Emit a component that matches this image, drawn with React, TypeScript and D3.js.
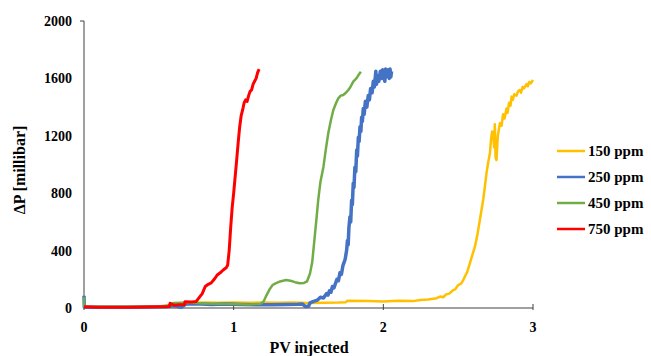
import React from "react";
import * as d3 from "d3";

const seriesNames = ["150 ppm", "250 ppm", "450 ppm", "750 ppm"];
const seriesColors = ["#FFC000", "#4472C4", "#70AD47", "#FF0000"];
const xTicks = [0, 1, 2, 3];
const yTicks = [0, 400, 800, 1200, 1600, 2000];

const yellow150: [number, number][] = [
  [0, 3], [0.5, 5], [0.6, 10], [0.64, 25], [0.7, 35], [0.8, 38], [0.9, 36], [1.0, 38], [1.1, 36],
  [1.2, 38], [1.3, 36], [1.4, 38], [1.5, 35], [1.6, 37], [1.7, 38], [1.75, 40], [1.76, 51],
  [1.9, 48], [2.0, 46], [2.1, 50], [2.2, 48], [2.245, 56], [2.3, 60], [2.356, 68], [2.38, 80],
  [2.4, 75], [2.42, 95], [2.44, 100], [2.467, 125], [2.48, 130], [2.5, 160], [2.52, 170],
  [2.534, 195], [2.55, 230], [2.56, 250], [2.578, 311], [2.595, 370], [2.612, 427], [2.63, 520],
  [2.645, 613], [2.657, 690], [2.667, 753], [2.679, 850], [2.689, 938], [2.7, 1010], [2.712, 1078],
  [2.72, 1180], [2.727, 1230], [2.734, 1217], [2.74, 1120], [2.745, 1280], [2.75, 1050],
  [2.756, 1031], [2.765, 1200], [2.779, 1287], [2.79, 1270], [2.8, 1350], [2.81, 1320],
  [2.823, 1390], [2.83, 1360], [2.84, 1430], [2.85, 1410], [2.857, 1473], [2.865, 1450],
  [2.875, 1490], [2.89, 1480], [2.9, 1510], [2.912, 1519], [2.92, 1500], [2.93, 1540],
  [2.94, 1530], [2.957, 1560], [2.965, 1545], [2.975, 1575], [2.985, 1565], [3.0, 1589],
];

const blue250: [number, number][] = [
  [0, 85], [0.002, 5], [0.3, 5], [0.55, 8], [0.6, 15], [0.65, 5], [0.68, 28], [0.75, 30],
  [0.85, 25], [0.95, 28], [1.05, 25], [1.15, 22], [1.25, 22], [1.35, 25], [1.43, 26], [1.46, 28],
  [1.48, 10], [1.5, 12], [1.51, 35], [1.53, 44], [1.56, 55], [1.58, 75], [1.6, 70], [1.62, 100],
  [1.63, 90], [1.64, 120], [1.65, 110], [1.66, 150], [1.67, 140], [1.69, 200], [1.7, 190],
  [1.71, 245], [1.72, 235], [1.73, 295], [1.745, 340], [1.755, 404], [1.76, 470], [1.765, 440],
  [1.77, 560], [1.777, 636], [1.782, 600], [1.788, 750], [1.793, 720], [1.799, 869], [1.804, 840],
  [1.81, 980], [1.816, 950], [1.822, 1101], [1.827, 1060], [1.833, 1190], [1.838, 1160],
  [1.844, 1263], [1.85, 1230], [1.855, 1330], [1.86, 1300], [1.866, 1390], [1.872, 1350],
  [1.88, 1440], [1.89, 1400], [1.899, 1480], [1.907, 1450], [1.915, 1530], [1.925, 1500],
  [1.933, 1580], [1.94, 1540], [1.95, 1650], [1.955, 1560], [1.96, 1620], [1.97, 1580],
  [1.98, 1650], [1.989, 1600], [1.995, 1660], [2.0, 1620], [2.01, 1580], [2.015, 1665],
  [2.02, 1610], [2.033, 1660], [2.04, 1600], [2.045, 1665], [2.05, 1610], [2.055, 1650],
];

const green450: [number, number][] = [
  [0, 75], [0.002, 10], [0.1, 8], [0.3, 8], [0.5, 10], [0.57, 20], [0.6, 35], [0.7, 38],
  [0.8, 32], [0.9, 30], [1.0, 28], [1.1, 25], [1.18, 30], [1.2, 45], [1.22, 90], [1.24, 130],
  [1.26, 160], [1.28, 172], [1.31, 185], [1.35, 195], [1.38, 190], [1.41, 180], [1.44, 172],
  [1.47, 175], [1.49, 185], [1.51, 240], [1.525, 320], [1.54, 480], [1.555, 640], [1.565, 753],
  [1.58, 880], [1.6, 985], [1.615, 1100], [1.632, 1217], [1.65, 1310], [1.666, 1380],
  [1.685, 1430], [1.699, 1461], [1.715, 1480], [1.732, 1484], [1.75, 1500], [1.766, 1519],
  [1.78, 1540], [1.799, 1577], [1.82, 1600], [1.835, 1625], [1.85, 1647],
];

const red750: [number, number][] = [
  [0, 8], [0.1, 6], [0.3, 6], [0.5, 8], [0.57, 10], [0.575, 33], [0.59, 25], [0.6, 20],
  [0.64, 22], [0.67, 22], [0.675, 44], [0.72, 42], [0.75, 46], [0.76, 60], [0.79, 100],
  [0.81, 150], [0.83, 165], [0.85, 175], [0.87, 200], [0.89, 230], [0.91, 245], [0.93, 265],
  [0.95, 280], [0.96, 300], [0.97, 400], [0.98, 560], [0.99, 700], [1.0, 800], [1.01, 915],
  [1.02, 1030], [1.03, 1150], [1.04, 1260], [1.05, 1340], [1.06, 1380], [1.07, 1430],
  [1.08, 1450], [1.09, 1440], [1.1, 1480], [1.11, 1510], [1.12, 1520], [1.13, 1560],
  [1.14, 1580], [1.15, 1600], [1.16, 1640], [1.17, 1665],
];

const seriesData = [yellow150, blue250, green450, red750];
const seriesWidths = [2.5, 3.5, 2.5, 3];

export default function App() {
  const x = d3.scaleLinear().domain([0, 3]).range([84, 533]);
  const y = d3.scaleLinear().domain([0, 2000]).range([308, 21]);
  const line = d3.line<[number, number]>().x((d) => x(d[0])).y((d) => y(d[1]));
  const font = "Liberation Serif, Times New Roman, serif";
  const axisColor = "#404040";
  return (
    <svg width={651} height={356} style={{ position: "absolute", left: 0, top: 0, background: "#fff" }}>
      <rect width={651} height={356} fill="#fff" />
      <line x1={x(0)} x2={x(0)} y1={y(2000)} y2={y(0)} stroke={axisColor} strokeWidth={1} />
      <line x1={x(0) - 4} x2={x(0)} y1={y(2000)} y2={y(2000)} stroke={axisColor} strokeWidth={1} />
      <line x1={x(0)} x2={x(3)} y1={y(0)} y2={y(0)} stroke={axisColor} strokeWidth={1} />
      {xTicks.map((t) => (
        <line key={"xt" + t} x1={x(t)} x2={x(t)} y1={y(0) - 4} y2={y(0) + 2} stroke={axisColor} strokeWidth={1} />
      ))}
      {yTicks.map((t) => (
        <text key={"yl" + t} x={72} y={y(t)} dy="0.35em" textAnchor="end" fontFamily={font} fontWeight="bold" fontSize={14} fill="#000">
          {t}
        </text>
      ))}
      {xTicks.map((t) => (
        <text key={"xl" + t} x={x(t)} y={332} textAnchor="middle" fontFamily={font} fontWeight="bold" fontSize={14} fill="#000">
          {t}
        </text>
      ))}
      <text x={309} y={353} textAnchor="middle" fontFamily={font} fontWeight="bold" fontSize={16} fill="#000">
        PV injected
      </text>
      <text transform={`translate(25,170) rotate(-90)`} textAnchor="middle" fontFamily={font} fontWeight="bold" fontSize={16} fill="#000">
        ΔP [millibar]
      </text>
      {seriesData.map((d, i) => (
        <path key={"s" + i} d={line(d) || ""} fill="none" stroke={seriesColors[i]} strokeWidth={seriesWidths[i]} strokeLinejoin="round" />
      ))}
      {seriesNames.map((n, i) => (
        <g key={"lg" + i} transform={`translate(0, ${151 + i * 26})`}>
          <line x1={557} x2={585} y1={0} y2={0} stroke={seriesColors[i]} strokeWidth={2.5} />
          <text x={588} y={0} dy="0.35em" fontFamily={font} fontWeight="bold" fontSize={15} fill="#000">
            {n}
          </text>
        </g>
      ))}
    </svg>
  );
}
